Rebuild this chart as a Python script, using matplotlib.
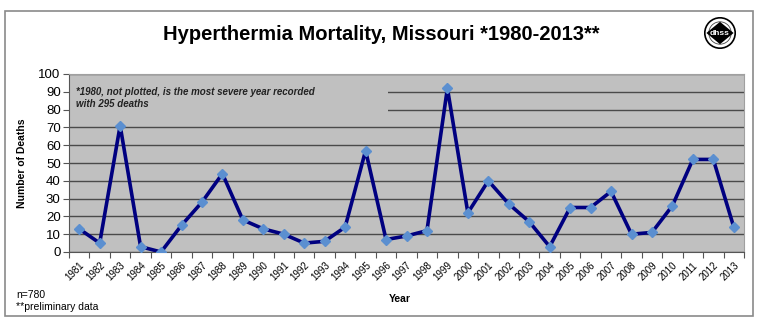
import numpy as np
import matplotlib
matplotlib.use("Agg")
import matplotlib.pyplot as plt
from matplotlib.patches import Rectangle, Circle, Polygon

plt.rcParams['font.family'] = ['Liberation Sans', 'DejaVu Sans']

years = list(range(1981, 2014))
deaths = [13, 5, 71, 3, 0, 15, 28, 44, 18, 13, 10, 5, 6, 14, 57, 7, 9, 12,
          92, 22, 40, 27, 17, 3, 25, 25, 34, 10, 11, 26, 52, 52, 14]
y_ticks = list(range(0, 101, 10))

title = "Hyperthermia Mortality, Missouri *1980-2013**"
note = "*1980, not plotted, is the most severe year recorded\nwith 295 deaths"

W, H = 770, 322
fig = plt.figure(figsize=(W / 100, H / 100), dpi=100)
fig.patch.set_facecolor("white")

# outer frame round the whole chart
fig.patches.append(Rectangle((5 / W, 1 - 316 / H), 748 / W, 305 / H,
                             transform=fig.transFigure, fill=False,
                             edgecolor="#8a8a8a", lw=1.2))

ax = fig.add_axes([69 / W, 1 - 252 / H, 675 / W, 178 / H])
ax.set_facecolor("#c0c0c0")

x = np.arange(len(years))
ax.set_xlim(-0.5, len(years) - 0.5)
ax.set_ylim(0, 100)

ax.set_yticks(y_ticks)
ax.yaxis.grid(True, color="#4a4a4a", lw=1)
ax.set_axisbelow(True)
ax.tick_params(axis="y", labelsize=9.5, length=4, color="#555555", pad=2)

# tick marks between categories, labels at the centres
ax.set_xticks(np.arange(-0.5, len(years), 1))
ax.set_xticklabels([])
ax.tick_params(axis="x", which="major", length=4, color="#555555")
ax.set_xticks(x, minor=True)
ax.set_xticklabels([str(y) for y in years], minor=True, rotation=45,
                   ha="right", va="top", rotation_mode="anchor", fontsize=7)
ax.tick_params(axis="x", which="minor", length=0, pad=6)

for s in ["top", "right"]:
    ax.spines[s].set_color("#a0a0a0")
for s in ["left", "bottom"]:
    ax.spines[s].set_color("#555555")

# the 1980 note hides the upper grid lines
ax.text(0.01, 0.865, note, transform=ax.transAxes, fontsize=7,
        fontweight="bold", fontstyle="italic", color="#222222",
        va="center", ha="left", linespacing=1.3, zorder=3,
        bbox=dict(boxstyle="square,pad=0.45", facecolor="#c0c0c0",
                  edgecolor="none"))
ax.add_patch(Rectangle((0, 0.78), 0.473, 0.17, transform=ax.transAxes,
                       facecolor="#c0c0c0", edgecolor="none", zorder=2))

ax.plot(x, deaths, color="#000080", lw=2.6, zorder=4)
ax.plot(x, deaths, ls="none", marker="D", ms=5, color="#5b8fd0", zorder=5)

ax.set_ylabel("Number of Deaths", fontsize=7.5, fontweight="bold", labelpad=8)
fig.text(400 / W, 1 - 299 / H, "Year", fontsize=7.5, fontweight="bold",
         ha="center", va="center")

fig.text(381 / W, 1 - 34 / H, title, fontsize=14.5, fontweight="bold",
         ha="center", va="center")

fig.text(16 / W, 1 - 295 / H, "n=780", fontsize=7.5, va="center")
fig.text(16 / W, 1 - 307 / H, "**preliminary data", fontsize=7.5, va="center")

# small dhss seal in the top right corner
lax = fig.add_axes([704 / W, 1 - 49 / H, 32 / W, 32 / H])
lax.set_xlim(-1, 1)
lax.set_ylim(-1, 1)
lax.set_aspect("equal")
lax.axis("off")
lax.add_patch(Circle((0, 0), 0.95, facecolor="white", edgecolor="black", lw=1.2))
lax.add_patch(Circle((0, 0), 0.7, facecolor="white", edgecolor="#444444", lw=0.6))
lax.add_patch(Polygon([[-0.85, 0], [0, 0.7], [0.85, 0], [0, -0.7]],
                      closed=True, facecolor="black"))
lax.text(0, -0.02, "dhss", color="white", fontsize=6, fontweight="bold",
         ha="center", va="center")

fig.savefig("out.png", dpi=100)
